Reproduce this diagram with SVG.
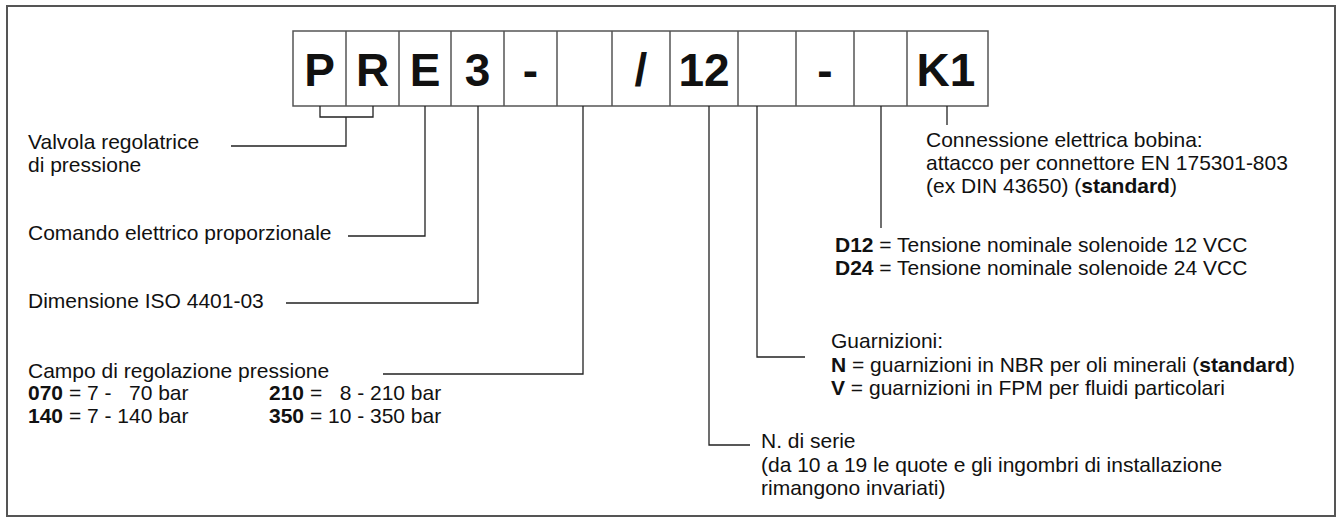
<svg xmlns="http://www.w3.org/2000/svg" width="1343" height="523" viewBox="0 0 1343 523">
<style>
  .frame{fill:none;stroke:#555;stroke-width:2}
  .box{fill:#fff;stroke:#555;stroke-width:1.5}
  .code{font-family:"Liberation Sans",Arial,sans-serif;font-weight:bold;font-size:46px;fill:#111;text-anchor:middle}
  .t{font-family:"Liberation Sans",Arial,sans-serif;font-size:21px;fill:#111;white-space:pre}
  .b{font-weight:bold}
  .c{fill:none;stroke:#222;stroke-width:1.3}
</style>
<rect class="frame" x="7" y="6" width="1328" height="510"/>
<g id="code-boxes">
  <rect class="box" x="293" y="31" width="695" height="75"/>
  <path class="box" d="M346,31V106M399,31V106M451,31V106M504,31V106M557,31V106M612,31V106M670,31V106M738,31V106M796,31V106M854,31V106M907,31V106"/>
  <text class="code" x="319.5" y="85.5">P</text>
  <text class="code" x="372.5" y="85.5">R</text>
  <text class="code" x="425" y="85.5">E</text>
  <text class="code" x="477.5" y="85.5">3</text>
  <text class="code" x="530.5" y="85.5">-</text>
  <text class="code" x="641" y="85.5">/</text>
  <text class="code" x="704" y="85.5">12</text>
  <text class="code" x="825" y="85.5">-</text>
  <text class="code" x="946" y="85.5">K1</text>
</g>
<g id="connectors">
  <path class="c" d="M320,106V117H373V106M346,117V146H231"/>
  <path class="c" d="M425,106V236H348"/>
  <path class="c" d="M478,106V303H286"/>
  <path class="c" d="M583,106V374H383"/>
  <path class="c" d="M709,106V445H750"/>
  <path class="c" d="M757,106V357H805"/>
  <path class="c" d="M881,106V228"/>
  <path class="c" d="M947,106V125"/>
</g>
<g id="valvola">
  <text class="t" x="28" y="149">Valvola regolatrice</text>
  <text class="t" x="28" y="171.5">di pressione</text>
</g>
<g id="comando">
  <text class="t" x="28" y="240">Comando elettrico proporzionale</text>
</g>
<g id="dimensione">
  <text class="t" x="28" y="307.5">Dimensione ISO 4401-03</text>
</g>
<g id="campo">
  <text class="t" x="28" y="377.5">Campo di regolazione pressione</text>
  <text class="t" x="28" y="400"><tspan class="b">070</tspan> = 7 -   70 bar</text>
  <text class="t" x="28" y="423"><tspan class="b">140</tspan> = 7 - 140 bar</text>
  <text class="t" x="269" y="400"><tspan class="b">210</tspan> =   8 - 210 bar</text>
  <text class="t" x="269" y="423"><tspan class="b">350</tspan> = 10 - 350 bar</text>
</g>
<g id="connessione">
  <text class="t" x="926" y="147">Connessione elettrica bobina:</text>
  <text class="t" x="926" y="170">attacco per connettore EN 175301-803</text>
  <text class="t" x="926" y="193">(ex DIN 43650) (<tspan class="b">standard</tspan>)</text>
</g>
<g id="tensione">
  <text class="t" x="835" y="252"><tspan class="b">D12</tspan> = Tensione nominale solenoide 12 VCC</text>
  <text class="t" x="835" y="275"><tspan class="b">D24</tspan> = Tensione nominale solenoide 24 VCC</text>
</g>
<g id="guarnizioni">
  <text class="t" x="831" y="348">Guarnizioni:</text>
  <text class="t" x="831" y="371.5"><tspan class="b">N</tspan> = guarnizioni in NBR per oli minerali (<tspan class="b">standard</tspan>)</text>
  <text class="t" x="831" y="395"><tspan class="b">V</tspan> = guarnizioni in FPM per fluidi particolari</text>
</g>
<g id="serie">
  <text class="t" x="761" y="448">N. di serie</text>
  <text class="t" x="761" y="471.5">(da 10 a 19 le quote e gli ingombri di installazione</text>
  <text class="t" x="761" y="495">rimangono invariati)</text>
</g>
</svg>
